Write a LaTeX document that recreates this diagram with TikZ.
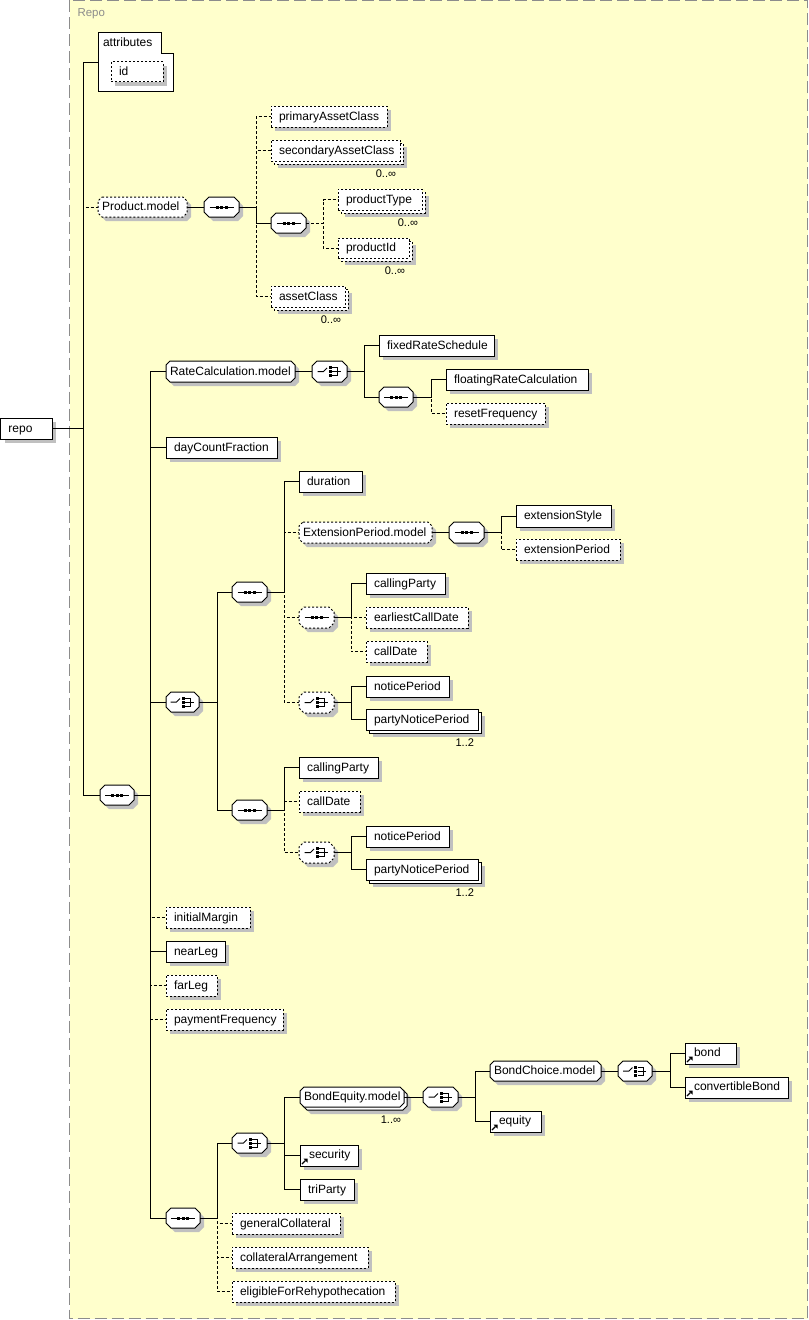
\documentclass[tikz,border=0pt]{standalone}
\usepackage{fontspec}
\setmainfont{Liberation Sans}
\usetikzlibrary{calc}
\definecolor{bgy}{HTML}{FFFFCC}
\definecolor{shadowc}{HTML}{C0C0C0}
\definecolor{grpc}{HTML}{8C8C8C}
\newcommand\elfont{\fontsize{9pt}{10pt}\selectfont}
\newcommand\cardfont{\fontsize{8.3pt}{9pt}\selectfont}
\tikzset{
  req/.style={},
  opt/.style={dash pattern=on 1.5pt off 1.5pt},
  optl/.style={dash pattern=on 2.25pt off 1.5pt},
  shade/.style={fill=shadowc},
  frame/.style={draw=black, line width=0.75pt, fill=white},
  lbl/.style={anchor=base west, inner sep=0pt, outer sep=0pt, font=\elfont},
  card/.style={anchor=base east, inner sep=0pt, outer sep=0pt, font=\cardfont},
  hold/.style={draw=none, inner sep=0pt, outer sep=0pt, anchor=north west},
}
% plain element box
\newcommand\El[7]{%
  \fill[shade] ({#3+4},{#4+4}) rectangle ({#5+4},{#6+4});
  \node[hold,frame,#1,minimum width={(#5-#3)*0.75pt},minimum height={(#6-#4)*0.75pt}] (#2) at (#3,#4) {};
  \node[lbl] (#2-t) at ({#3+8},{(#4+#6)/2+3.5}) {#7};}
% element with several occurrences
\newcommand\Elm[8]{%
  \fill[shade] ({#3+7},{#4+7}) rectangle ({#5+7},{#6+7});
  \draw[frame,#1] ({#3+3},{#4+3}) rectangle ({#5+3},{#6+3});
  \node[hold,frame,#1,minimum width={(#5-#3)*0.75pt},minimum height={(#6-#4)*0.75pt}] (#2) at (#3,#4) {};
  \node[lbl] (#2-t) at ({#3+8},{(#4+#6)/2+3.5}) {#7};
  \node[card] (#2-c) at ({#5-4},{#6+16}) {#8};}
% referenced element
\newcommand\Elr[7]{%
  \fill[shade] ({#3+4},{#4+4}) rectangle ({#5+4},{#6+4});
  \node[hold,frame,#1,minimum width={(#5-#3)*0.75pt},minimum height={(#6-#4)*0.75pt}] (#2) at (#3,#4) {};
  \node[lbl] (#2-t) at ({#3+9},{(#4+#6)/2+2.5}) {#7};
  \draw[line width=0.9pt] ({#3+2},{#6-2}) -- ({#3+5.5},{#6-5.5});
  \fill ({#3+3.5},{#6-7.5}) -- ({#3+7.5},{#6-7.5}) -- ({#3+7.5},{#6-3.5}) -- cycle;}
% octagon (model group / compositor)
\newcommand\Oc[7]{%
  \fill[shade,shift={(4,4)}] ({#3+#7},{#4}) -- ({#5-#7},{#4}) -- ({#5},{#4+#7}) -- ({#5},{#6-#7}) -- ({#5-#7},{#6}) -- ({#3+#7},{#6}) -- ({#3},{#6-#7}) -- ({#3},{#4+#7}) -- cycle;
  \draw[frame,#1] ({#3+#7},{#4}) -- ({#5-#7},{#4}) -- ({#5},{#4+#7}) -- ({#5},{#6-#7}) -- ({#5-#7},{#6}) -- ({#3+#7},{#6}) -- ({#3},{#6-#7}) -- ({#3},{#4+#7}) -- cycle;
  \node[hold,minimum width={(#5-#3)*0.75pt},minimum height={(#6-#4)*0.75pt}] (#2) at (#3,#4) {};}
\newcommand\Ocm[7]{%
  \fill[shade,shift={(7,7)}] ({#3+#7},{#4}) -- ({#5-#7},{#4}) -- ({#5},{#4+#7}) -- ({#5},{#6-#7}) -- ({#5-#7},{#6}) -- ({#3+#7},{#6}) -- ({#3},{#6-#7}) -- ({#3},{#4+#7}) -- cycle;
  \draw[frame,#1,shift={(3,3)}] ({#3+#7},{#4}) -- ({#5-#7},{#4}) -- ({#5},{#4+#7}) -- ({#5},{#6-#7}) -- ({#5-#7},{#6}) -- ({#3+#7},{#6}) -- ({#3},{#6-#7}) -- ({#3},{#4+#7}) -- cycle;
  \draw[frame,#1] ({#3+#7},{#4}) -- ({#5-#7},{#4}) -- ({#5},{#4+#7}) -- ({#5},{#6-#7}) -- ({#5-#7},{#6}) -- ({#3+#7},{#6}) -- ({#3},{#6-#7}) -- ({#3},{#4+#7}) -- cycle;
  \node[hold,minimum width={(#5-#3)*0.75pt},minimum height={(#6-#4)*0.75pt}] (#2) at (#3,#4) {};}
\newcommand\Otx[2]{\node[lbl] (#1-t) at ($(#1.west)+(4,3.5)$) {#2};}
\newcommand\seqic[1]{%
  \begin{scope}[shift={(#1.center)}]
    \draw (-12,0) -- (12,0);
    \fill (-6,-1.5) rectangle (-3,1.5);
    \fill (-1.5,-1.5) rectangle (1.5,1.5);
    \fill (3,-1.5) rectangle (6,1.5);
  \end{scope}}
\newcommand\choiceic[1]{%
  \begin{scope}[shift={(#1.center)}]
    \draw (-12,0) -- (-6,0) -- (-2.5,-3.5);
    \fill (-1,-5.5) rectangle (2,-2.5);
    \fill (-1,-1.5) rectangle (2,1.5);
    \fill (-1,2.5) rectangle (2,5.5);
    \draw (2.5,-4) -- (8,-4) -- (8,4) -- (2.5,4);
    \draw (2.5,0) -- (11,0);
  \end{scope}}
\newcommand\Tr[4]{\draw[#1] (#2.east) -- ++(#3,0) |- (#4.west);}
\begin{document}
\begin{tikzpicture}[x=0.75pt,y=-0.75pt,line width=0.75pt]
\useasboundingbox (0,0) rectangle (809,1320);
% group box
\fill[bgy] (69.5,0.5) rectangle (807.5,1318.5);
\draw[grpc,line width=1.1pt,dash pattern=on 9pt off 3.75pt] (69.5,0.5) rectangle (807.5,1318.5);
\node[anchor=base west,inner sep=0pt,font=\fontsize{8.6pt}{10pt}\selectfont,text=grpc] (grp) at (77,17) {Repo};

% root
\El{req}{repo}{0.5}{418}{52}{439}{repo}
% attributes
\draw[frame] (98,33) -- (161,33) -- (161,54) -- (173,54) -- (173,92) -- (98,92) -- cycle;
\node[hold,minimum width={75*0.75pt},minimum height={59*0.75pt}] (attr) at (98,33) {};
\node[lbl] (attr-t) at (103,47) {attributes};
\El{opt}{id}{111}{62}{163}{82}{id}

% Product.model
\Oc{opt}{pm}{98}{197}{187}{217}{4} \Otx{pm}{Product.model}
\Oc{req}{sqP}{204}{197}{239}{217}{5} \seqic{sqP}
\El{opt}{pac}{271}{106}{387}{127}{primaryAssetClass}
\Elm{opt}{sac}{271}{140}{400}{161}{secondaryAssetClass}{0..∞}
\Oc{req}{sqP2}{271}{213}{306}{233}{5} \seqic{sqP2}
\Elm{opt}{ptype}{338}{189}{422}{210}{productType}{0..∞}
\Elm{opt}{pid}{338}{238}{409}{258}{productId}{0..∞}
\Elm{opt}{acl}{271}{286}{345}{307}{assetClass}{0..∞}

% main sequence
\Oc{req}{sqM}{100}{785}{134}{805}{5} \seqic{sqM}
\Oc{req}{rcm}{166}{361}{295}{382}{4} \Otx{rcm}{RateCalculation.model}
\Oc{req}{chR}{312}{361}{347}{382}{5} \choiceic{chR}
\El{req}{frs}{379}{335}{494}{356}{fixedRateSchedule}
\Oc{req}{sqR}{379}{387}{413}{407}{5} \seqic{sqR}
\El{req}{frc}{446}{369}{588}{390}{floatingRateCalculation}
\El{opt}{rf}{446}{403}{545}{424}{resetFrequency}
\El{req}{dcf}{166}{437}{277}{458}{dayCountFraction}

% choice of term
\Oc{req}{chC}{166}{692}{199}{712}{5} \choiceic{chC}
\Oc{req}{sqC1}{232}{582}{267}{602}{5} \seqic{sqC1}
\El{req}{dur}{299}{471}{362}{492}{duration}
\Oc{opt}{epm}{299}{522}{432}{543}{4} \Otx{epm}{ExtensionPeriod.model}
\Oc{req}{sqE}{449}{522}{484}{543}{5} \seqic{sqE}
\El{req}{exs}{516}{505}{611}{527}{extensionStyle}
\El{opt}{expd}{516}{539}{620}{560}{extensionPeriod}
\Oc{opt}{sqCall}{299}{607}{334}{628}{5} \seqic{sqCall}
\El{req}{cpa}{366}{573}{445}{594}{callingParty}
\El{opt}{ecd}{366}{607}{468}{628}{earliestCallDate}
\El{opt}{cda}{366}{641}{427}{662}{callDate}
\Oc{opt}{chNa}{299}{692}{334}{713}{5} \choiceic{chNa}
\El{req}{npa}{366}{676}{449}{697}{noticePeriod}
\Elm{req}{pnpa}{366}{709}{478}{730}{partyNoticePeriod}{1..2}
\Oc{req}{sqC2}{232}{800}{267}{820}{5} \seqic{sqC2}
\El{req}{cpb}{299}{757}{378}{778}{callingParty}
\El{opt}{cdb}{299}{791}{360}{812}{callDate}
\Oc{opt}{chNb}{299}{842}{334}{863}{5} \choiceic{chNb}
\El{req}{npb}{366}{826}{449}{847}{noticePeriod}
\Elm{req}{pnpb}{366}{859}{478}{880}{partyNoticePeriod}{1..2}

\El{opt}{im}{166}{907}{250}{928}{initialMargin}
\El{req}{nl}{166}{941}{225}{962}{nearLeg}
\El{opt}{fl}{166}{975}{217}{996}{farLeg}
\El{opt}{pf}{166}{1009}{283}{1030}{paymentFrequency}

% collateral
\Oc{req}{sqB}{166}{1208}{200}{1228}{5} \seqic{sqB}
\Oc{req}{chB}{232}{1133}{267}{1153}{5} \choiceic{chB}
\Ocm{req}{bem}{300}{1087}{404}{1107}{4} \Otx{bem}{BondEquity.model}
\node[card] (bem-c) at (401,1123) {1..∞};
\Oc{req}{chBE}{423}{1087}{458}{1107}{5} \choiceic{chBE}
\Oc{req}{bcm}{490}{1061}{601}{1081}{4} \Otx{bcm}{BondChoice.model}
\Oc{req}{chBC}{618}{1061}{652}{1081}{5} \choiceic{chBC}
\Elr{req}{bond}{685}{1043}{736}{1064}{bond}
\Elr{req}{cbond}{685}{1077}{788}{1098}{convertibleBond}
\Elr{req}{eqty}{490}{1111}{541}{1132}{equity}
\Elr{req}{sec}{300}{1145}{358}{1166}{security}
\El{req}{tp}{300}{1179}{354}{1200}{triParty}
\El{opt}{gc}{232}{1213}{340}{1234}{generalCollateral}
\El{opt}{ca}{232}{1247}{368}{1268}{collateralArrangement}
\El{opt}{efr}{232}{1281}{395}{1302}{eligibleForRehypothecation}

% connectors
\Tr{optl}{repo}{31}{pm}
\Tr{}{repo}{31}{attr}
\Tr{}{repo}{31}{sqM}
\draw (pm.east) -- (sqP.west);
\Tr{optl}{sqP}{17}{pac}
\Tr{optl}{sqP}{17}{sac}
\Tr{optl}{sqP}{17}{acl}
\Tr{}{sqP}{17}{sqP2}
\Tr{optl}{sqP2}{17}{ptype}
\Tr{optl}{sqP2}{17}{pid}

\Tr{optl}{sqM}{16}{im}
\Tr{optl}{sqM}{16}{fl}
\Tr{optl}{sqM}{16}{pf}
\Tr{}{sqM}{16}{rcm}
\Tr{}{sqM}{16}{dcf}
\Tr{}{sqM}{16}{chC}
\Tr{}{sqM}{16}{nl}
\Tr{}{sqM}{16}{sqB}
\draw (rcm.east) -- (chR.west);
\Tr{}{chR}{17}{frs}
\Tr{}{chR}{17}{sqR}
\Tr{optl}{sqR}{18}{rf}
\Tr{}{sqR}{18}{frc}

\Tr{}{chC}{18}{sqC1}
\Tr{}{chC}{18}{sqC2}
\Tr{optl}{sqC1}{17}{epm}
\Tr{optl}{sqC1}{17}{sqCall}
\Tr{optl}{sqC1}{17}{chNa}
\Tr{}{sqC1}{17}{dur}
\draw (epm.east) -- (sqE.west);
\Tr{optl}{sqE}{17}{expd}
\Tr{}{sqE}{17}{exs}
\Tr{optl}{sqCall}{17}{ecd}
\Tr{optl}{sqCall}{17}{cda}
\Tr{}{sqCall}{17}{cpa}
\Tr{}{chNa}{17}{npa}
\Tr{}{chNa}{17}{pnpa}
\Tr{optl}{sqC2}{17}{cdb}
\Tr{optl}{sqC2}{17}{chNb}
\Tr{}{sqC2}{17}{cpb}
\Tr{}{chNb}{17}{npb}
\Tr{}{chNb}{17}{pnpb}

\Tr{optl}{sqB}{17}{gc}
\Tr{optl}{sqB}{17}{ca}
\Tr{optl}{sqB}{17}{efr}
\Tr{}{sqB}{17}{chB}
\Tr{}{chB}{17}{bem}
\Tr{}{chB}{17}{sec}
\Tr{}{chB}{17}{tp}
\draw (bem.east) -- (chBE.west);
\Tr{}{chBE}{17}{bcm}
\Tr{}{chBE}{17}{eqty}
\draw (bcm.east) -- (chBC.west);
\Tr{}{chBC}{18}{bond}
\Tr{}{chBC}{18}{cbond}
\end{tikzpicture}
\end{document}
